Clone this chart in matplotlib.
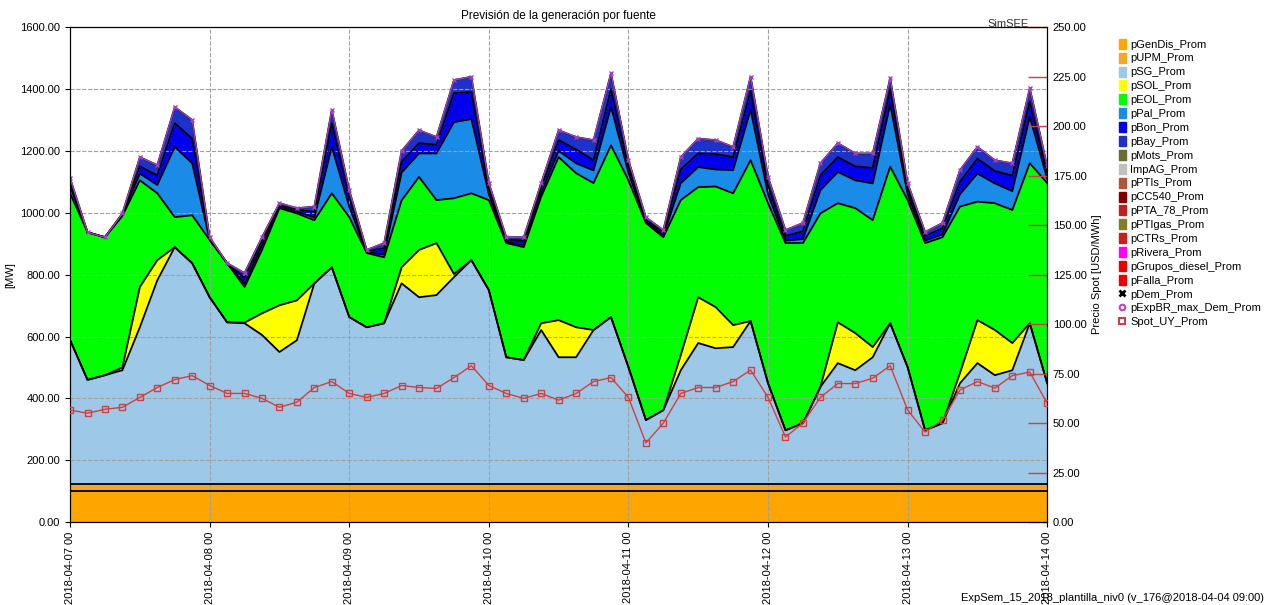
import matplotlib
matplotlib.use("Agg")
import matplotlib.pyplot as plt
import matplotlib.patches as mpatches
from matplotlib.lines import Line2D
import numpy as np

plt.rcParams['font.family'] = ['Liberation Sans', 'DejaVu Sans']

# hours since 2018-04-07 00:00, every 3 h
horas = list(range(0, 169, 3))
dias = ["2018-04-07 00", "2018-04-08 00", "2018-04-09 00", "2018-04-10 00",
        "2018-04-11 00", "2018-04-12 00", "2018-04-13 00", "2018-04-14 00"]

gendis = [100] * 57
upm = [22] * 57

# cumulative tops of each layer [MW]
sg_top = [589, 460, 475, 491, 630, 782, 889, 837, 727,
          646, 643, 605, 550, 588, 772, 824, 663,
          630, 643, 772, 727, 734, 792, 847, 750,
          533, 524, 621, 533, 533, 621, 663, 501,
          330, 362, 491, 579, 562, 566, 650, 449,
          297, 320, 437, 514, 491, 533, 643, 501,
          297, 320, 449, 514, 475, 491, 643, 449]
sol_top = [589, 460, 475, 500, 760, 847, 889, 837, 727,
           646, 645, 675, 701, 717, 772, 824, 663,
           630, 643, 824, 880, 902, 802, 847, 750,
           533, 524, 643, 653, 630, 621, 663, 501,
           330, 362, 540, 727, 695, 637, 650, 449,
           297, 320, 437, 646, 611, 566, 643, 501,
           297, 320, 482, 653, 621, 579, 643, 449]
eol_top = [1063, 937, 921, 990, 1105, 1063, 986, 992, 912,
           837, 760, 880, 1015, 998, 976, 1063, 986,
           870, 856, 1040, 1116, 1041, 1047, 1063, 1041,
           902, 889, 1052, 1180, 1128, 1096, 1218, 1105,
           967, 921, 1041, 1083, 1085, 1063, 1170, 1031,
           902, 902, 998, 1031, 1015, 976, 1149, 1041,
           902, 921, 1020, 1036, 1031, 1009, 1160, 1096]
pal_top = [1085, 937, 921, 995, 1127, 1090, 1213, 1160, 912,
           837, 770, 895, 1020, 1003, 985, 1213, 1020,
           872, 865, 1130, 1192, 1192, 1293, 1303, 1060,
           905, 895, 1065, 1200, 1160, 1137, 1342, 1130,
           970, 925, 1096, 1148, 1140, 1138, 1333, 1060,
           910, 915, 1073, 1132, 1105, 1095, 1350, 1060,
           910, 930, 1060, 1127, 1095, 1070, 1310, 1110]
bon_top = [1100, 937, 921, 997, 1150, 1121, 1290, 1240, 917,
           837, 790, 910, 1027, 1010, 1003, 1290, 1050,
           876, 885, 1165, 1225, 1220, 1387, 1390, 1080,
           913, 910, 1082, 1235, 1205, 1170, 1400, 1150,
           978, 935, 1140, 1192, 1190, 1180, 1395, 1090,
           925, 940, 1120, 1180, 1150, 1145, 1400, 1080,
           925, 950, 1100, 1175, 1135, 1120, 1360, 1130]
dem = [1112, 937, 921, 998, 1180, 1154, 1342, 1300, 921,
       837, 805, 921, 1031, 1015, 1020, 1333, 1073,
       880, 902, 1200, 1267, 1245, 1429, 1440, 1096,
       921, 921, 1096, 1267, 1245, 1235, 1451, 1170,
       985, 944, 1180, 1240, 1235, 1213, 1440, 1116,
       944, 967, 1160, 1225, 1192, 1192, 1435, 1096,
       938, 967, 1138, 1213, 1170, 1160, 1403, 1150]
spot = [56.6, 55, 57, 58, 63, 68, 72, 74, 69,
        65, 65, 62.5, 58, 60.6, 68, 71, 65,
        63, 65, 69, 68, 67.5, 73, 79, 69,
        65, 62.5, 65, 61.6, 65, 71, 73, 63,
        40, 50, 65, 68, 68, 71, 76.8, 63,
        43, 50, 63, 70, 70, 72.7, 79, 56.6,
        45.5, 51.5, 66.7, 71, 67.7, 74, 75.8, 60]

leyenda = ["pGenDis_Prom", "pUPM_Prom", "pSG_Prom", "pSOL_Prom", "pEOL_Prom", "pPal_Prom",
           "pBon_Prom", "pBay_Prom", "pMots_Prom", "ImpAG_Prom", "pPTIs_Prom", "pCC540_Prom",
           "pPTA_78_Prom", "pPTIgas_Prom", "pCTRs_Prom", "pRivera_Prom", "pGrupos_diesel_Prom",
           "pFalla_Prom"]
colores = ["#ffa500", "#f5a623", "#9dc8e8", "#ffff00", "#00ff00", "#1a8ce8",
           "#0000ee", "#1d32c8", "#6b6b35", "#c0c0c0", "#b0553a", "#800000",
           "#c02020", "#808020", "#c81e1e", "#ff00ff", "#ee0000", "#ee0000"]

h = np.array(horas)
base1 = np.array(gendis)
base2 = base1 + np.array(upm)
capas = [np.zeros(57), base1, base2, np.array(sg_top), np.array(sol_top),
         np.array(eol_top), np.array(pal_top), np.array(bon_top), np.array(dem)]

fig = plt.figure(figsize=(12.74, 6.05), dpi=100)
ax = fig.add_axes([0.055, 0.137, 0.767, 0.818])
for i in range(len(capas) - 1):
    ax.fill_between(h, capas[i], capas[i + 1], color=colores[i], lw=0, zorder=2)
    ax.plot(h, capas[i + 1], color="black", lw=1.3, zorder=3)
ax.plot(h, dem, color="#a040c0", lw=1, marker="x", ms=3, mec="#a040c0", zorder=4)

ax.set_xlim(0, 168)
ax.set_ylim(0, 1600)
ax.set_xticks(range(0, 169, 24))
ax.set_xticklabels(dias, rotation=90, fontsize=8)
ax.set_yticks(range(0, 1601, 200))
ax.set_yticklabels(["%.2f" % v for v in range(0, 1601, 200)], fontsize=8)
ax.grid(True, ls="--", color="#a0a0a0", lw=0.8, zorder=5)
ax.set_axisbelow(False)
ax.set_ylabel("[MW]", fontsize=8, labelpad=4)
ax.set_title("Previsión de la generación por fuente", fontsize=8.5)
for s in ax.spines.values():
    s.set_linewidth(0.8)

ax2 = ax.twinx()
ax2.plot(h, spot, color="#d04040", lw=1, marker="s", ms=5, mfc="none", mec="#d04040", zorder=6)
ax2.set_ylim(0, 250)
ax2.set_yticks(np.arange(0, 251, 25))
ax2.set_yticklabels(["%.2f" % v for v in np.arange(0, 251, 25)], fontsize=8)
ax2.tick_params(axis="y", direction="in", length=14, color="#d04040", width=1, pad=4)
ax2.set_ylabel("Precio Spot [USD/MWh]", fontsize=8)

handles = [mpatches.Patch(color=c, label=l) for c, l in zip(colores, leyenda)]
handles.append(Line2D([], [], ls="none", marker="x", color="black", mew=2, ms=5, label="pDem_Prom"))
handles.append(Line2D([], [], ls="none", marker="o", mfc="none", mec="#c040c0", mew=1.5, ms=4, label="pExpBR_max_Dem_Prom"))
handles.append(Line2D([], [], ls="none", marker="s", mfc="none", mec="#d04040", mew=1.5, ms=4, label="Spot_UY_Prom"))
fig.legend(handles=handles, loc="upper left", bbox_to_anchor=(0.874, 0.945), frameon=False,
           fontsize=8, handlelength=0.6, handleheight=1.0, labelspacing=0.28, handletextpad=0.4,
           borderpad=0)

fig.text(0.775, 0.955, "SimSEE", fontsize=8, color="#333333")
fig.text(0.992, 0.003, "ExpSem_15_2018_plantilla_niv0 (v_176@2018-04-04 09:00)",
         fontsize=8, ha="right", va="bottom")

fig.savefig("out.png", dpi=100)
